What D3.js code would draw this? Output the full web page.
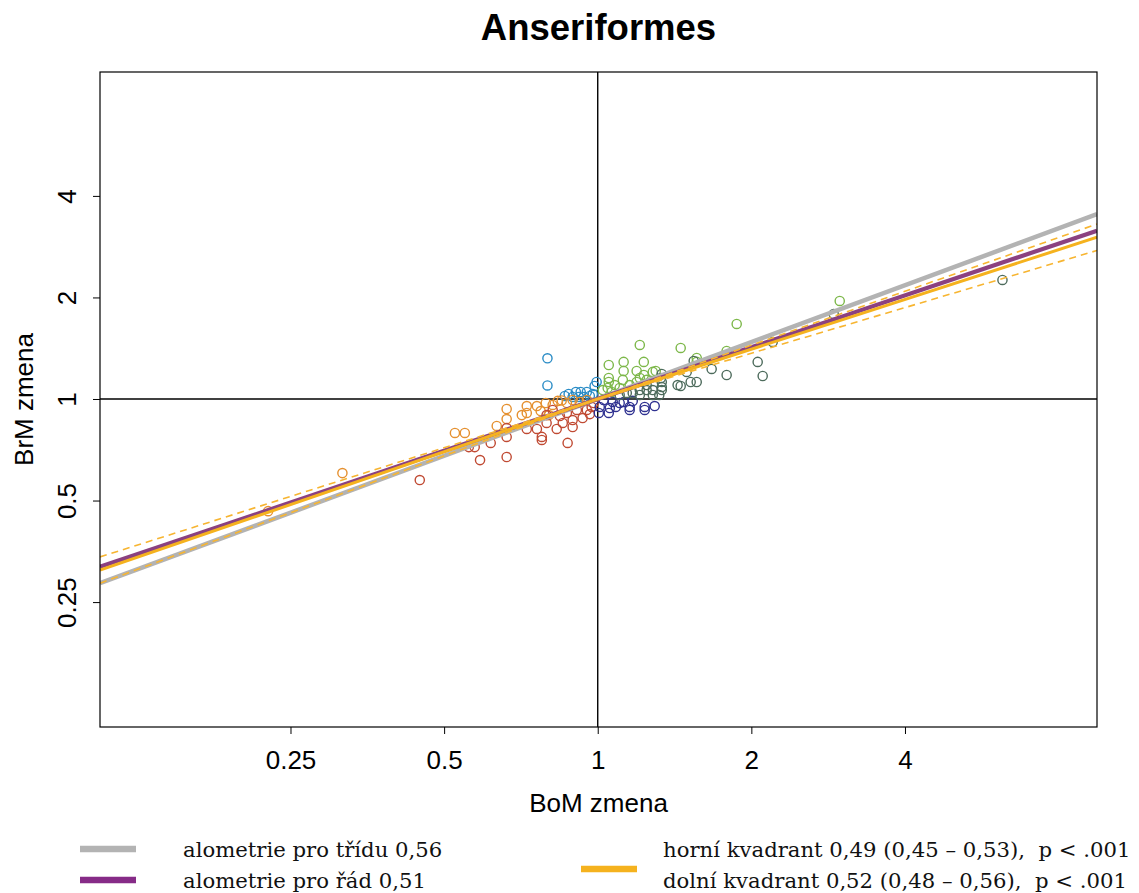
<!DOCTYPE html>
<html>
<head>
<meta charset="utf-8">
<script src="https://cdn.jsdelivr.net/npm/d3@7"></script>
<style>
  html, body { margin: 0; padding: 0; background: #fff; }
  svg { display: block; }
</style>
</head>
<body>
<svg id="chart" width="1139" height="893"></svg>
<script>
// Body-mass change (BoM) and brain-mass change (BrM) per lineage, grouped by sector
const blueBoM   = [0.797, 0.797, 0.877, 0.893, 0.906, 0.918, 0.926, 0.939, 0.952, 0.965, 0.978, 0.986, 0.995, 0.862];
const blueBrM   = [1.32, 1.097, 1.035, 1.014, 1.049, 1.014, 1.049, 1.014, 1.049, 1.021, 1.035, 1.093, 1.123, 1.021];

const orangeBoM = [0.226, 0.316, 0.525, 0.549, 0.634, 0.663, 0.663, 0.710, 0.726, 0.726, 0.760, 0.773, 0.791, 0.816, 0.835, 0.850, 0.870, 0.893, 0.922, 0.952, 0.802];
const orangeBrM = [0.465, 0.603, 0.793, 0.793, 0.832, 0.872, 0.934, 0.896, 0.953, 0.909, 0.953, 0.921, 0.973, 0.960, 0.987, 0.990, 0.973, 0.993, 0.980, 0.993, 0.896];

const redBoM    = [0.448, 0.588, 0.663, 0.873, 0.777, 0.777, 0.559, 0.574, 0.617, 0.663, 0.663, 0.726, 0.760, 0.794, 0.831, 0.854, 0.893, 0.893, 0.934, 0.794, 0.816, 0.870, 0.910, 0.952, 0.973, 0.982, 0.843, 0.965];
const redBrM    = [0.575, 0.659, 0.673, 0.741, 0.772, 0.756, 0.720, 0.720, 0.741, 0.772, 0.820, 0.815, 0.815, 0.849, 0.815, 0.849, 0.826, 0.866, 0.878, 0.896, 0.928, 0.909, 0.928, 0.928, 0.947, 0.973, 0.890, 0.902];

const navyBoM   = [1.005, 1.051, 1.056, 1.104, 1.155, 1.155, 1.236, 1.236, 1.293, 1.009, 1.070, 1.027, 1.171, 1.085, 1.124];
const navyBrM   = [0.909, 0.909, 0.940, 0.973, 0.947, 0.928, 0.947, 0.928, 0.953, 0.947, 0.980, 0.993, 0.987, 0.947, 0.980];

const greenBoM  = [2.98, 1.872, 1.454, 1.563, 1.563, 1.789, 1.209, 1.299, 1.051, 1.124, 1.231, 1.124, 1.192, 1.231, 1.282, 1.051, 1.051, 1.023, 1.046, 1.104, 1.155, 1.192, 1.209, 1.247, 1.080, 1.120, 1.065];
const greenBrM  = [1.953, 1.669, 1.417, 1.323, 1.288, 1.388, 1.446, 1.211, 1.261, 1.288, 1.288, 1.211, 1.211, 1.178, 1.203, 1.154, 1.123, 1.063, 1.078, 1.078, 1.100, 1.123, 1.154, 1.139, 1.100, 1.139, 1.049];

const darkBoM   = [6.21, 2.90, 2.202, 2.058, 1.672, 1.494, 1.542, 1.789, 2.105, 1.454, 1.521, 1.563, 1.335, 1.335, 1.335, 1.335, 1.282, 1.282, 1.247, 1.247, 1.209, 1.209, 1.171, 1.140, 1.434, 1.330, 1.104, 1.320];
const darkBrM   = [2.254, 1.787, 1.476, 1.288, 1.228, 1.203, 1.296, 1.178, 1.170, 1.093, 1.123, 1.123, 1.123, 1.085, 1.063, 1.186, 1.063, 1.028, 1.100, 1.063, 1.063, 1.028, 1.042, 1.042, 1.100, 1.154, 1.028, 1.028];

const groupColors = ["#2a8cc6", "#e5902f", "#c04a33", "#2f3190", "#7db84a", "#4d6b5c"];

// Allometric slopes (log-log, through the point 1,1)
const slopeClass = 0.56;       // třída
const slopeOrder = 0.51;       // řád
const slopeUpper = [0.49, 0.45, 0.53];   // horní kvadrant: odhad, dolní mez, horní mez
const slopeLower = [0.52, 0.48, 0.56];   // dolní kvadrant: odhad, dolní mez, horní mez

const tickValues = [0.25, 0.5, 1, 2, 4];
const titleText = "Anseriformes";
const xTitle = "BoM zmena";
const yTitle = "BrM zmena";
const legendLeft = ["alometrie pro třídu 0,56", "alometrie pro řád 0,51"];
const legendRight = ["horní kvadrant 0,49 (0,45 – 0,53),  p < .001", "dolní kvadrant 0,52 (0,48 – 0,56),  p < .001"];

const svg = d3.select("#chart");
const plot = { left: 100, right: 1097, top: 72, bottom: 727 };

const x = d3.scaleLog().base(2).domain([Math.pow(2, -3.24), Math.pow(2, 3.25)]).range([plot.left, plot.right]);
const y = d3.scaleLog().base(2).domain([Math.pow(2, -3.23), Math.pow(2, 3.22)]).range([plot.bottom, plot.top]);

const sans = "'Liberation Sans', Arial, Helvetica, sans-serif";
const serif = "'DejaVu Serif', 'Liberation Serif', serif";

svg.append("defs").append("clipPath").attr("id", "plotClip")
  .append("rect")
  .attr("x", plot.left).attr("y", plot.top)
  .attr("width", plot.right - plot.left).attr("height", plot.bottom - plot.top);

// Title
svg.append("text")
  .attr("x", (plot.left + plot.right) / 2).attr("y", 40)
  .attr("text-anchor", "middle")
  .attr("font-family", sans).attr("font-weight", "bold").attr("font-size", 36.5)
  .text(titleText);

// Axes
const xAxis = d3.axisBottom(x).tickValues(tickValues).tickFormat(d => String(d)).tickSize(7).tickPadding(17);
const gx = svg.append("g").attr("transform", `translate(0,${plot.bottom})`).call(xAxis);
gx.select(".domain").remove();
gx.selectAll(".tick line").attr("stroke", "#000").attr("stroke-width", 1);
gx.selectAll(".tick text").attr("font-family", sans).attr("font-size", 26).attr("fill", "#000");

const yAxis = d3.axisLeft(y).tickValues(tickValues).tickFormat(d => String(d)).tickSize(7);
const gy = svg.append("g").attr("transform", `translate(${plot.left},0)`).call(yAxis);
gy.select(".domain").remove();
gy.selectAll(".tick line").attr("stroke", "#000").attr("stroke-width", 1);
gy.selectAll(".tick text")
  .attr("font-family", sans).attr("font-size", 26).attr("fill", "#000")
  .attr("x", 0).attr("dy", 0)
  .attr("text-anchor", "middle")
  .attr("transform", "translate(-24,0) rotate(-90)");

// Axis titles
svg.append("text")
  .attr("x", (plot.left + plot.right) / 2).attr("y", 812)
  .attr("text-anchor", "middle")
  .attr("font-family", sans).attr("font-size", 26)
  .text(xTitle);
svg.append("text")
  .attr("transform", `translate(33,${(plot.top + plot.bottom) / 2}) rotate(-90)`)
  .attr("text-anchor", "middle")
  .attr("font-family", sans).attr("font-size", 26)
  .text(yTitle);

const inner = svg.append("g").attr("clip-path", "url(#plotClip)");

// Reference lines at 1
inner.append("line")
  .attr("x1", plot.left).attr("x2", plot.right)
  .attr("y1", y(1)).attr("y2", y(1))
  .attr("stroke", "#000").attr("stroke-width", 1.4);
inner.append("line")
  .attr("x1", x(1)).attr("x2", x(1))
  .attr("y1", plot.top).attr("y2", plot.bottom)
  .attr("stroke", "#000").attr("stroke-width", 1.4);

// Points
const groups = [
  [blueBoM, blueBrM], [orangeBoM, orangeBrM], [redBoM, redBrM],
  [navyBoM, navyBrM], [greenBoM, greenBrM], [darkBoM, darkBrM]
];
groups.forEach(([bx, by], gi) => {
  inner.append("g").selectAll("circle")
    .data(bx.map((v, i) => [v, by[i]]))
    .join("circle")
    .attr("cx", d => x(d[0])).attr("cy", d => y(d[1]))
    .attr("r", 4.6)
    .attr("fill", "none")
    .attr("stroke", groupColors[gi])
    .attr("stroke-width", 1.4);
});

// Power-law line y = x^b between two x values
const [xMin, xMax] = x.domain();
const powerLine = (b, x0, x1) => [[x0, Math.pow(x0, b)], [x1, Math.pow(x1, b)]];
const lineGen = d3.line().x(d => x(d[0])).y(d => y(d[1]));

const drawLine = (pts, color, width, dash) => {
  const p = inner.append("path")
    .attr("d", lineGen(pts))
    .attr("fill", "none")
    .attr("stroke", color)
    .attr("stroke-width", width);
  if (dash) p.attr("stroke-dasharray", dash);
};

drawLine(powerLine(slopeClass, xMin, xMax), "#b3b3b3", 4.5);
drawLine(powerLine(slopeOrder, xMin, xMax), "#8b4180", 4.2);
// Quadrant fits: estimate (solid) and interval bounds (dashed)
drawLine(powerLine(slopeLower[0], xMin, 1).concat(powerLine(slopeUpper[0], 1, xMax)), "#f5b21e", 3);
[1, 2].forEach(k => {
  drawLine(powerLine(slopeUpper[k], 1, xMax), "#f7b531", 1.6, "7,5");
  drawLine(powerLine(slopeLower[k], xMin, 1), "#f7b531", 1.6, "7,5");
});

// Plot frame
svg.append("rect")
  .attr("x", plot.left).attr("y", plot.top)
  .attr("width", plot.right - plot.left).attr("height", plot.bottom - plot.top)
  .attr("fill", "none").attr("stroke", "#000").attr("stroke-width", 1.2);

// Legend
const legend = svg.append("g");
legend.append("line").attr("x1", 80).attr("x2", 136).attr("y1", 849).attr("y2", 849)
  .attr("stroke", "#b3b3b3").attr("stroke-width", 6.5);
legend.append("line").attr("x1", 80).attr("x2", 136).attr("y1", 880).attr("y2", 880)
  .attr("stroke", "#862b87").attr("stroke-width", 6.5);
legend.append("line").attr("x1", 581).attr("x2", 637).attr("y1", 869).attr("y2", 869)
  .attr("stroke", "#f5b21e").attr("stroke-width", 6.5);

legendLeft.forEach((t, i) => {
  legend.append("text").attr("x", 183).attr("y", 857 + i * 31)
    .attr("font-family", serif).attr("font-size", 21.2).attr("fill", "#111")
    .text(t);
});
legendRight.forEach((t, i) => {
  legend.append("text").attr("x", 663).attr("y", 857 + i * 31)
    .attr("font-family", serif).attr("font-size", 21.2).attr("fill", "#111")
    .attr("xml:space", "preserve").style("white-space", "pre")
    .text(t);
});
</script>
</body>
</html>
